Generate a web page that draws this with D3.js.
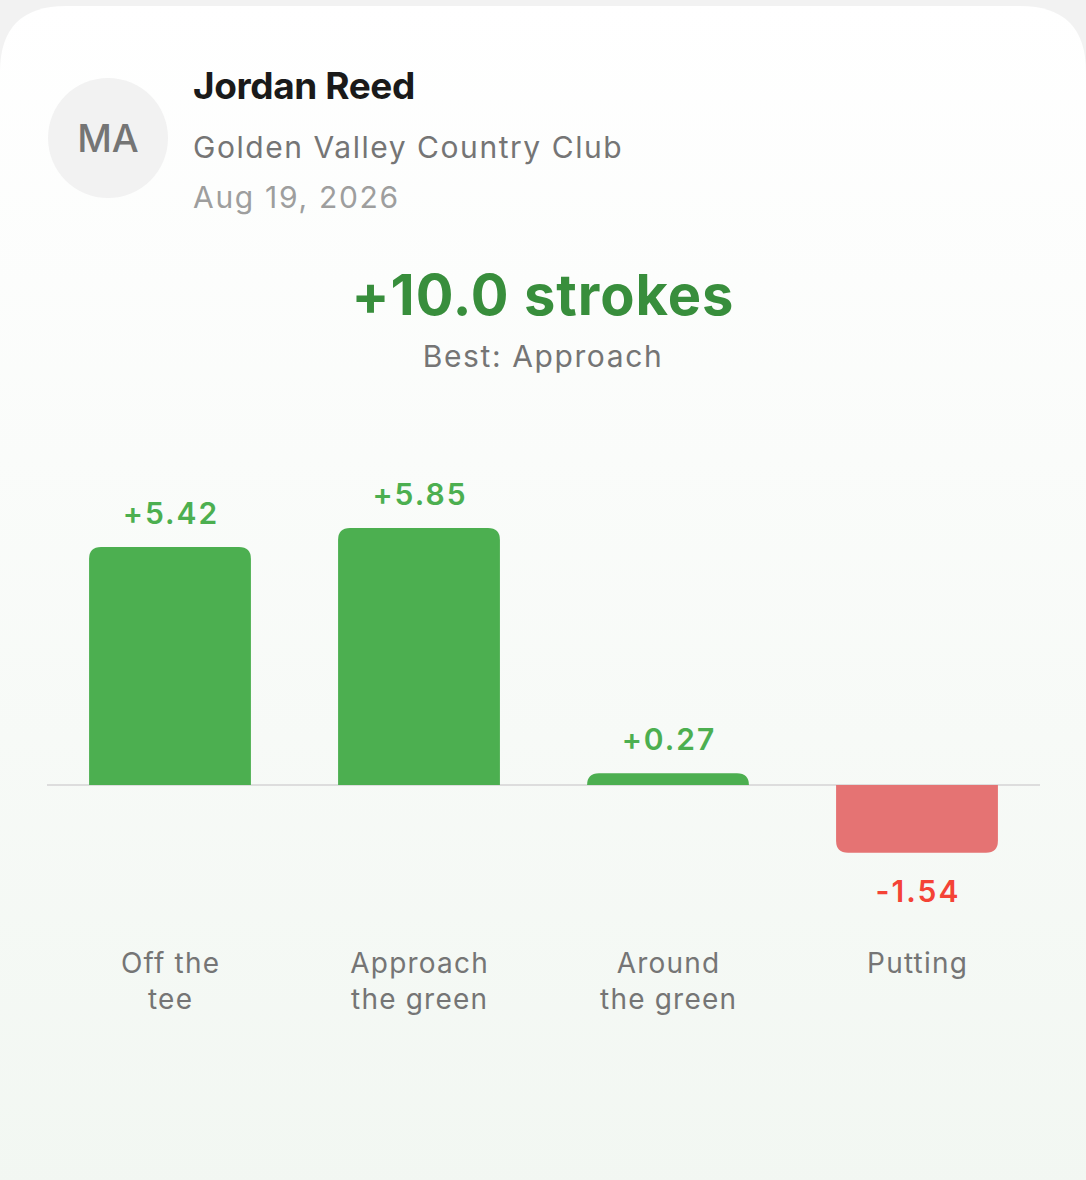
<!DOCTYPE html>
<html><head><meta charset="utf-8">
<script src="https://cdn.jsdelivr.net/npm/d3@7"></script>
<style>
html,body{margin:0;padding:0;background:#f2f2f2;}
svg{display:block;}
</style></head>
<body>
<script>
const categories = ["Off the tee", "Approach the green", "Around the green", "Putting"];
const categoryLines = [["Off the", "tee"], ["Approach", "the green"], ["Around", "the green"], ["Putting"]];
const values = [5.42, 5.85, 0.27, -1.54];
const valueLabels = ["+5.42", "+5.85", "+0.27", "-1.54"];
const playerName = "Jordan Reed";
const initials = "MA";
const course = "Golden Valley Country Club";
const dateText = "Aug 19, 2026";
const totalText = "+10.0 strokes";
const bestText = "Best: Approach";

(function(){
const W = 1086, H = 1180;
const FONT = "Inter, 'Noto Sans', sans-serif";
const svg = d3.select("body").append("svg").attr("width", W).attr("height", H);

const defs = svg.append("defs");
const grad = defs.append("linearGradient").attr("id","cardGrad").attr("x1",0).attr("y1",0).attr("x2",0).attr("y2",1);
grad.append("stop").attr("offset","0%").attr("stop-color","#ffffff");
grad.append("stop").attr("offset","100%").attr("stop-color","#f2f7f2");

// card with rounded top corners
const r = 66, cardTop = 6;
svg.append("path")
  .attr("d", `M0,${cardTop+r} Q0,${cardTop} ${r},${cardTop} L${W-r},${cardTop} Q${W},${cardTop} ${W},${cardTop+r} L${W},${H+10} L0,${H+10} Z`)
  .attr("fill","url(#cardGrad)");

// header
svg.append("circle").attr("cx",108).attr("cy",138).attr("r",60).attr("fill","#f2f2f2");
svg.append("text").attr("x",108).attr("y",152).attr("text-anchor","middle")
  .attr("font-family",FONT).attr("font-size",38).attr("font-weight",500).attr("fill","#757575").text(initials);
svg.append("text").attr("x",193).attr("y",99).attr("font-family",FONT).attr("font-size",37)
  .attr("font-weight",700).attr("letter-spacing",-0.4).attr("fill","#1a1a1a").text(playerName);
svg.append("text").attr("x",193).attr("y",158).attr("font-family",FONT).attr("font-size",30)
  .attr("letter-spacing",1.55).attr("fill","#757575").text(course);
svg.append("text").attr("x",193).attr("y",208).attr("font-family",FONT).attr("font-size",30)
  .attr("letter-spacing",1.7).attr("fill","#9e9e9e").text(dateText);

// title
svg.append("text").attr("x",543).attr("y",315).attr("text-anchor","middle").attr("font-family",FONT)
  .attr("font-size",56).attr("font-weight",700).attr("letter-spacing",1).attr("fill","#388e3c").text(totalText);
svg.append("text").attr("x",543).attr("y",367).attr("text-anchor","middle").attr("font-family",FONT)
  .attr("font-size",30).attr("letter-spacing",1.6).attr("fill","#757575").text(bestText);

// scales
const x = d3.scaleBand().domain(categories).range([45.5, 1041.5]).paddingInner(0.35).paddingOuter(0.175);
const y = d3.scaleLinear().domain([0, 5.85]).range([785, 528]);

// zero line
svg.append("line").attr("x1",47).attr("x2",1040).attr("y1",y(0)).attr("y2",y(0))
  .attr("stroke","#dddddd").attr("stroke-width",2);

function barPath(x0, w, yBase, yEnd, rad){
  const h = Math.abs(yEnd - yBase);
  const rr = Math.min(rad, h, w/2);
  if (yEnd < yBase) {
    return `M${x0},${yBase} L${x0},${yEnd+rr} Q${x0},${yEnd} ${x0+rr},${yEnd} L${x0+w-rr},${yEnd} Q${x0+w},${yEnd} ${x0+w},${yEnd+rr} L${x0+w},${yBase} Z`;
  } else {
    return `M${x0},${yBase} L${x0},${yEnd-rr} Q${x0},${yEnd} ${x0+rr},${yEnd} L${x0+w-rr},${yEnd} Q${x0+w},${yEnd} ${x0+w},${yEnd-rr} L${x0+w},${yBase} Z`;
  }
}

const g = svg.append("g");
categories.forEach((c, i) => {
  const v = values[i];
  const pos = v >= 0;
  const cx = x(c) + x.bandwidth()/2;
  g.append("path").attr("d", barPath(x(c), x.bandwidth(), y(0), y(v), 12))
    .attr("fill", pos ? "#4caf50" : "#e57373");
  g.append("text").attr("x", cx + 1)
    .attr("y", pos ? y(v) - 23 : y(v) + 49)
    .attr("text-anchor","middle").attr("font-family",FONT).attr("font-size",30).attr("font-weight",600)
    .attr("letter-spacing",2).attr("fill", pos ? "#4caf50" : "#f44336").text(valueLabels[i]);
  const t = g.append("text").attr("text-anchor","middle").attr("font-family",FONT).attr("font-size",28)
    .attr("letter-spacing",1.2).attr("fill","#757575");
  categoryLines[i].forEach((ln, j) => {
    t.append("tspan").attr("x", cx + 0.6).attr("y", 973 + j*36).text(ln);
  });
});
})();
</script>
</body></html>
